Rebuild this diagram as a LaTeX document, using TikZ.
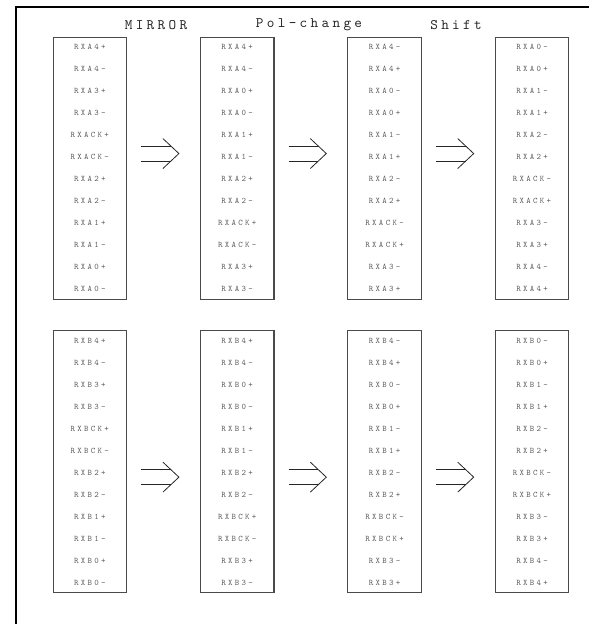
\documentclass[tikz,border=0pt]{standalone}
\usepackage{fontspec}
\newfontfamily\pinfont[LetterSpace=27]{lmmono10-regular.otf}
\newfontfamily\headfont[LetterSpace=23]{lmmono10-regular.otf}
\usetikzlibrary{positioning}
\definecolor{boxgray}{HTML}{4A4A4A}
\definecolor{pingray}{HTML}{5A5A5A}
\definecolor{headgray}{HTML}{262626}

\begin{document}
\begin{tikzpicture}[
        x=1pt, y=-1pt,
        node distance=29.5pt and 72.8pt,
        pinbox/.style={draw=boxgray, line width=1.1pt, text width=73.5pt,
                     minimum height=262.5pt, inner xsep=0pt, inner ysep=0pt,
                     align=center, text=pingray,
                     font=\pinfont\fontsize{8.5}{22}\selectfont},
        head/.style={text=headgray, inner sep=0pt, font=\headfont\fontsize{14.5}{18}\selectfont},
        chg/.style={draw=headgray, line width=0.8pt}
    ]
        \useasboundingbox (0,0) rectangle (589,624);
        % outer frame
        \draw[line width=2.5pt] (16,640) -- (16,7) -- (600,7);

        \node[head] (mirror) at (156,25) {MIRROR};
        \node[head] (polchg) at (309,25) {Pol-change};
        \node[head] (shift) at (456,25) {Shift};

        % A pairs
        \node[pinbox, anchor=north west] (a1) at (52.5,36.5) {RXA4+\\RXA4-\\RXA3+\\RXA3-\\RXACK+\\RXACK-\\RXA2+\\RXA2-\\RXA1+\\RXA1-\\RXA0+\\RXA0-};
        \node[pinbox, right=of a1] (a2) {RXA4+\\RXA4-\\RXA0+\\RXA0-\\RXA1+\\RXA1-\\RXA2+\\RXA2-\\RXACK+\\RXACK-\\RXA3+\\RXA3-};
        \node[pinbox, right=of a2] (a3) {RXA4-\\RXA4+\\RXA0-\\RXA0+\\RXA1-\\RXA1+\\RXA2-\\RXA2+\\RXACK-\\RXACK+\\RXA3-\\RXA3+};
        \node[pinbox, right=of a3] (a4) {RXA0-\\RXA0+\\RXA1-\\RXA1+\\RXA2-\\RXA2+\\RXACK-\\RXACK+\\RXA3-\\RXA3+\\RXA4-\\RXA4+};

        % B pairs
        \node[pinbox, below=of a1] (b1) {RXB4+\\RXB4-\\RXB3+\\RXB3-\\RXBCK+\\RXBCK-\\RXB2+\\RXB2-\\RXB1+\\RXB1-\\RXB0+\\RXB0-};
        \node[pinbox, right=of b1] (b2) {RXB4+\\RXB4-\\RXB0+\\RXB0-\\RXB1+\\RXB1-\\RXB2+\\RXB2-\\RXBCK+\\RXBCK-\\RXB3+\\RXB3-};
        \node[pinbox, right=of b2] (b3) {RXB4-\\RXB4+\\RXB0-\\RXB0+\\RXB1-\\RXB1+\\RXB2-\\RXB2+\\RXBCK-\\RXBCK+\\RXB3-\\RXB3+};
        \node[pinbox, right=of b3] (b4) {RXB0-\\RXB0+\\RXB1-\\RXB1+\\RXB2-\\RXB2+\\RXBCK-\\RXBCK+\\RXB3-\\RXB3+\\RXB4-\\RXB4+};

        % double arrows between the boxes
        \foreach \src/\dst/\dy in {a1/a2/14.75, a2/a3/14.75, a3/a4/14.75,
                                   b1/b2/-15.75, b2/b3/-15.75, b3/b4/-15.75} {
            \coordinate (\src-tail) at ([xshift=14pt, yshift=\dy pt]\src.east);
            \coordinate (\src-tip) at ([xshift=-21pt, yshift=\dy pt]\dst.west);
            \draw[chg] ([yshift=7.5pt]\src-tail) -- ([xshift=-8pt, yshift=7.5pt]\src-tip);
            \draw[chg] ([yshift=-7.5pt]\src-tail) -- ([xshift=-8pt, yshift=-7.5pt]\src-tip);
            \draw[chg] ([shift={(-16pt,15pt)}]\src-tip) -- (\src-tip) -- ([shift={(-16pt,-15pt)}]\src-tip);
        }
    \end{tikzpicture}
\end{document}
